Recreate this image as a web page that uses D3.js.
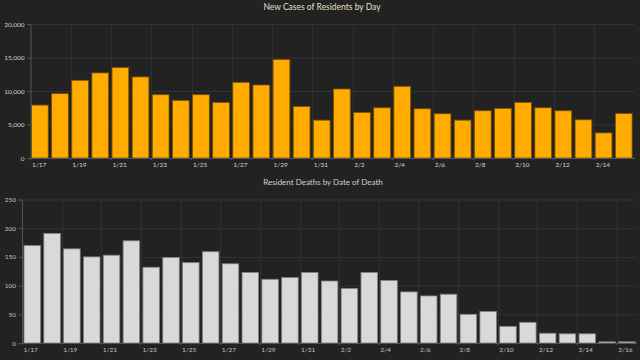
<!DOCTYPE html>
<html><head><meta charset="utf-8">
<script src="https://cdn.jsdelivr.net/npm/d3@7"></script>
<style>
html,body{margin:0;padding:0;background:#222;}
svg{display:block;}
text{font-family:Lato,"Open Sans",sans-serif;}
</style></head>
<body>
<svg id="c" width="640" height="360"></svg>
<script>
const caseDays = ["1/17","1/18","1/19","1/20","1/21","1/22","1/23","1/24","1/25","1/26","1/27","1/28","1/29","1/30","1/31","2/1","2/2","2/3","2/4","2/5","2/6","2/7","2/8","2/9","2/10","2/11","2/12","2/13","2/14","2/15"];
const caseValues = [7900,9600,11600,12700,13500,12100,9450,8600,9450,8300,11300,10900,14700,7700,5650,10300,6800,7500,10700,7350,6600,5650,7050,7400,8300,7500,7050,5700,3750,6650];
const caseTicks = ["1/17","1/19","1/21","1/23","1/25","1/27","1/29","1/31","2/2","2/4","2/6","2/8","2/10","2/12","2/14"];
const caseYTicks = [0,5000,10000,15000,20000];

const deathDays = ["1/17","1/18","1/19","1/20","1/21","1/22","1/23","1/24","1/25","1/26","1/27","1/28","1/29","1/30","1/31","2/1","2/2","2/3","2/4","2/5","2/6","2/7","2/8","2/9","2/10","2/11","2/12","2/13","2/14","2/15","2/16"];
const deathValues = [170,191,164,150,153,178,132,149,140,159,138,123,111,114,123,108,95,123,109,89,82,85,50,55,29,36,17,16,16,2,2];
const deathTicks = ["1/17","1/19","1/21","1/23","1/25","1/27","1/29","1/31","2/2","2/4","2/6","2/8","2/10","2/12","2/14","2/16"];
const deathYTicks = [0,50,100,150,200,250];

const svg = d3.select("#c");

function panel(o){
  const g = svg.append("g");
  const x = d3.scaleBand().domain(o.days).range([o.x0,o.x1]).padding(0);
  const y = d3.scaleLinear().domain([0,o.ymax]).range([o.yb,o.yt]);
  // horizontal grid
  g.append("g").selectAll("line").data(o.yticks).join("line")
    .attr("x1",o.x0).attr("x2",o.x1)
    .attr("y1",d=>y(d)+0.5).attr("y2",d=>y(d)+0.5)
    .attr("stroke","#333").attr("stroke-width",1);
  // vertical grid
  g.append("g").selectAll("line").data(o.xticks.slice(1)).join("line")
    .attr("x1",d=>Math.round(x(d))+0.5).attr("x2",d=>Math.round(x(d))+0.5)
    .attr("y1",o.yt).attr("y2",o.yb)
    .attr("stroke","#303030").attr("stroke-width",1);
  // bars
  g.append("g").selectAll("rect").data(o.values).join("rect")
    .attr("x",(d,i)=>x(o.days[i])+o.off)
    .attr("width",x.bandwidth()-o.gap)
    .attr("y",d=>y(d))
    .attr("height",d=>o.yb-y(d))
    .attr("fill",o.fill).attr("stroke",o.stroke).attr("stroke-width",0.8);
  // y axis
  const ya = g.append("g").attr("transform",`translate(${o.x0},0)`)
    .call(d3.axisLeft(y).tickValues(o.yticks).tickSize(3).tickPadding(3).tickFormat(d3.format(",")));
  ya.select(".domain").attr("stroke","#555");
  ya.selectAll(".tick line").attr("stroke","#555");
  ya.selectAll("text").attr("fill",o.tc).attr("font-size",6.5);
  // x axis
  const xa = g.append("g").attr("transform",`translate(0,${o.yb})`)
    .call(d3.axisBottom(x).tickValues(o.xticks).tickSize(2).tickSizeOuter(0));
  xa.select(".domain").attr("stroke","#555");
  xa.selectAll(".tick").attr("transform",d=>`translate(${x(d)},0)`);
  xa.selectAll(".tick line").attr("stroke","#555");
  xa.selectAll("text").attr("fill",o.tc).attr("font-size",6.5)
    .attr("text-anchor","start").attr("x",1.5).attr("y",4).attr("dy","0.71em");
  // title
  svg.append("text").attr("x",o.tx).attr("y",o.ty).attr("text-anchor","middle")
    .attr("fill",o.titleColor).attr("font-size",o.titleSize).text(o.title);
}

panel({days:caseDays, values:caseValues, xticks:caseTicks, yticks:caseYTicks, ymax:20000,
  x0:30.5, x1:634.5, yt:24, yb:158, off:1, gap:3.4,
  fill:"#ffab00", stroke:"#7a5200", tc:"#d9d2bd",
  title:"New Cases of Residents by Day", tx:322, ty:10, titleSize:8.5, titleColor:"#e6dfc9"});

panel({days:deathDays, values:deathValues, xticks:deathTicks, yticks:deathYTicks, ymax:250,
  x0:22, x1:636.5, yt:199.5, yb:343, off:2, gap:3.3,
  fill:"#d9d9d9", stroke:"#808080", tc:"#c9c3b0",
  title:"Resident Deaths by Date of Death", tx:323, ty:184.5, titleSize:8, titleColor:"#cfcfcf"});
</script>
</body></html>
